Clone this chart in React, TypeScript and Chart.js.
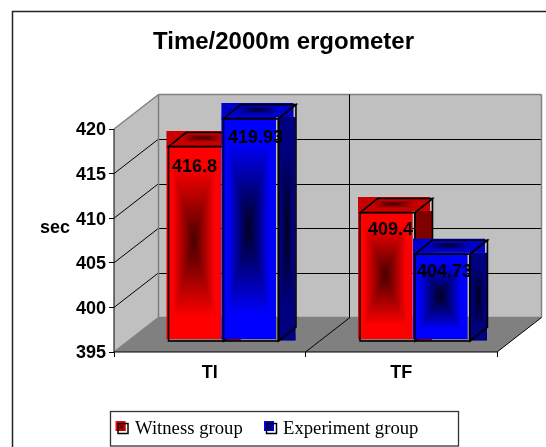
import React, { useEffect, useRef } from "react";
import { Chart, registerables } from "chart.js";

Chart.register(...registerables);

const categories = ["TI", "TF"];
const witnessGroup = [416.8, 409.4];
const experimentGroup = [419.93, 404.73];
const witnessLabels = ["416.8", "409.4"];
const experimentLabels = ["419.93", "404.73"];
const seriesNames = ["Witness group", "Experiment group"];
const chartTitle = "Time/2000m ergometer";
const yAxisTitle = "sec";

const SANS = '"Liberation Sans", Arial, sans-serif';
const SERIF = '"Liberation Serif", "Times New Roman", serif';

const WALL = { dx: 44.5, dy: -34.5 };
const BAR_SHIFT = { dx: 13.75, dy: -11 };
const BAR_DEPTH = { dx: 17.5, dy: -14 };
const LABEL_NUDGE = [
  [[3.5, 25], [8, 22.7]],
  [[4.5, 24.3], [2, 22.5]],
];

const PALETTE = [
  { front: [255, 0, 0], frontDark: [70, 0, 0], top: [200, 0, 0], topDark: [60, 0, 0], side: [128, 0, 0], sideDark: [80, 0, 0] },
  { front: [0, 0, 255], frontDark: [0, 0, 30], top: [0, 0, 200], topDark: [0, 0, 40], side: [0, 0, 128], sideDark: [0, 0, 30] },
];

const rgb = (c: number[]) => `rgb(${c[0]},${c[1]},${c[2]})`;

function rectGradient(ctx: CanvasRenderingContext2D, x: number, y: number, w: number, h: number, edge: number[], center: number[], hold = 0) {
  const cx = x + w / 2;
  const cy = y + h / 2;
  const faces = [
    [x, y, x + w, y, cx, y, cx, cy],
    [x + w, y, x + w, y + h, x + w, cy, cx, cy],
    [x + w, y + h, x, y + h, cx, y + h, cx, cy],
    [x, y + h, x, y, x, cy, cx, cy],
  ];
  ctx.save();
  ctx.beginPath();
  ctx.rect(x, y, w, h);
  ctx.clip();
  ctx.fillStyle = rgb(edge);
  ctx.fillRect(x, y, w, h);
  for (const f of faces) {
    const g = ctx.createLinearGradient(f[4], f[5], f[6], f[7]);
    g.addColorStop(0, rgb(edge));
    if (hold > 0) g.addColorStop(hold, rgb(edge));
    g.addColorStop(1, rgb(center));
    ctx.fillStyle = g;
    ctx.beginPath();
    ctx.moveTo(f[0], f[1]);
    ctx.lineTo(f[2], f[3]);
    ctx.lineTo(cx, cy);
    ctx.closePath();
    ctx.fill();
    ctx.strokeStyle = g;
    ctx.lineWidth = 0.6;
    ctx.stroke();
  }
  ctx.restore();
}

const poly = (ctx: CanvasRenderingContext2D, pts: number[][]) => {
  ctx.beginPath();
  pts.forEach((p, i) => (i ? ctx.lineTo(p[0], p[1]) : ctx.moveTo(p[0], p[1])));
  ctx.closePath();
};
const seg = (ctx: CanvasRenderingContext2D, x1: number, y1: number, x2: number, y2: number) => {
  ctx.beginPath();
  ctx.moveTo(x1, y1);
  ctx.lineTo(x2, y2);
  ctx.stroke();
};

const scene3d = {
  id: "scene3d",
  beforeDatasetsDraw(chart: any) {
    const ctx: CanvasRenderingContext2D = chart.ctx;
    const { left, right, top, bottom } = chart.chartArea;
    const yS = chart.scales.y;
    const xS = chart.scales.x;
    const D = WALL;
    ctx.save();
    ctx.fillStyle = "#c0c0c0";
    poly(ctx, [[left, top], [left + D.dx, top + D.dy], [left + D.dx, bottom + D.dy], [left, bottom]]);
    ctx.fill();
    ctx.fillRect(left + D.dx, top + D.dy, right - left, bottom - top);
    ctx.fillStyle = "#808080";
    poly(ctx, [[left, bottom], [left + D.dx, bottom + D.dy], [right + D.dx, bottom + D.dy], [right, bottom]]);
    ctx.fill();

    yS.ticks.forEach((t: any) => {
      const y = yS.getPixelForValue(t.value);
      if (t.value === yS.min || t.value === yS.max) return;
      ctx.strokeStyle = "#000";
      ctx.lineWidth = 1;
      seg(ctx, left, y, left + D.dx, y + D.dy);
      seg(ctx, left + D.dx, Math.round(y + D.dy) + 0.5, right + D.dx, Math.round(y + D.dy) + 0.5);
    });
    ctx.strokeStyle = "#808080";
    ctx.lineWidth = 1.5;
    seg(ctx, left, top, left + D.dx, top + D.dy);
    seg(ctx, left + D.dx, top + D.dy, right + D.dx, top + D.dy);
    seg(ctx, right + D.dx, top + D.dy, right + D.dx, bottom + D.dy);
    seg(ctx, left + D.dx, top + D.dy, left + D.dx, bottom + D.dy);
    seg(ctx, left + D.dx, bottom + D.dy, right + D.dx, bottom + D.dy);
    seg(ctx, left, bottom, left + D.dx, bottom + D.dy);

    const mid = (xS.getPixelForValue(0) + xS.getPixelForValue(1)) / 2;
    ctx.strokeStyle = "#000";
    ctx.lineWidth = 1;
    seg(ctx, Math.floor(mid + D.dx) - 0.5, top + D.dy, Math.floor(mid + D.dx) - 0.5, bottom + D.dy);
    seg(ctx, mid + D.dx, bottom + D.dy, mid, bottom);
    seg(ctx, right, bottom, right + D.dx, bottom + D.dy);
    seg(ctx, left, bottom, right, bottom);
    seg(ctx, left, top, left, bottom);

    const metas = [chart.getDatasetMeta(0), chart.getDatasetMeta(1)];
    categories.forEach((_, c) => {
      metas.forEach((meta, s) => {
        const el = meta.data[c];
        const colors = PALETTE[s];
        const w = el.width;
        const x0 = el.x - w / 2 + BAR_SHIFT.dx;
        const x1 = x0 + w;
        const y0 = el.y + BAR_SHIFT.dy;
        const y1 = yS.getPixelForValue(yS.min) + BAR_SHIFT.dy;
        const d = BAR_DEPTH;
        rectGradient(ctx, x1, y0 - 1.5, d.dx - 0.5, y1 - y0 + 1, colors.side, colors.sideDark, 0.3);
        rectGradient(ctx, x0 - 2, y0 + d.dy - 1.5, w + d.dx - 0.5, -d.dy, colors.top, colors.topDark, 0.45);
        rectGradient(ctx, x0 - 2, y0 - 1.5, w - 0.5, y1 - y0 - 0.5, colors.front, colors.frontDark, 0.22);
        ctx.strokeStyle = "#000";
        ctx.lineWidth = 1.6;
        ctx.lineJoin = "miter";
        ctx.strokeRect(x0, y0, w, y1 - y0);
        poly(ctx, [[x0, y0], [x0 + d.dx, y0 + d.dy], [x1 + d.dx, y0 + d.dy], [x1, y0]]);
        ctx.stroke();
        poly(ctx, [[x1, y0], [x1 + d.dx, y0 + d.dy], [x1 + d.dx, y1 + d.dy], [x1, y1]]);
        ctx.stroke();
      });
    });
    ctx.restore();
  },
  afterDatasetsDraw(chart: any) {
    const ctx: CanvasRenderingContext2D = chart.ctx;
    const labels = [witnessLabels, experimentLabels];
    ctx.save();
    ctx.fillStyle = "#000";
    ctx.font = `bold 18px ${SANS}`;
    ctx.textAlign = "left";
    ctx.textBaseline = "alphabetic";
    [0, 1].forEach((s) => {
      chart.getDatasetMeta(s).data.forEach((el: any, c: number) => {
        const x0 = el.x - el.width / 2 + BAR_SHIFT.dx;
        const y0 = el.y + BAR_SHIFT.dy;
        ctx.fillText(labels[s][c], x0 + LABEL_NUDGE[s][c][0], y0 + LABEL_NUDGE[s][c][1]);
      });
    });
    ctx.fillText(yAxisTitle, 40, 233);

    ctx.strokeStyle = "#222";
    ctx.lineWidth = 1.5;
    ctx.beginPath();
    ctx.moveTo(12.5, 460);
    ctx.lineTo(12.5, 11.5);
    ctx.lineTo(560, 11.5);
    ctx.stroke();

    ctx.strokeStyle = "#333";
    ctx.lineWidth = 1.3;
    ctx.strokeRect(110.5, 411.5, 348, 34.5);
    const entries = [
      { sx: 115.5, tx: 135, c: PALETTE[0] },
      { sx: 264, tx: 283, c: PALETTE[1] },
    ];
    entries.forEach((e, i) => {
      ctx.fillStyle = rgb(e.c.front);
      ctx.fillRect(e.sx, 421, 10, 10);
      rectGradient(ctx, e.sx + 2, 423, 8, 8, e.c.top, e.c.topDark, 0.3);
      ctx.strokeStyle = "#000";
      ctx.lineWidth = 1.5;
      ctx.strokeRect(e.sx + 2.5, 423.5, 10, 10);
      ctx.fillStyle = "#000";
      ctx.font = `18.7px ${SERIF}`;
      ctx.textBaseline = "alphabetic";
      ctx.fillText(seriesNames[i], e.tx, 433.5);
    });
    ctx.restore();
  },
};

export default function App() {
  const ref = useRef<HTMLCanvasElement | null>(null);
  useEffect(() => {
    const chart = new Chart(ref.current as HTMLCanvasElement, {
      type: "bar",
      data: {
        labels: categories,
        datasets: [
          { label: seriesNames[0], data: witnessGroup, backgroundColor: "rgba(0,0,0,0)", borderWidth: 0 },
          { label: seriesNames[1], data: experimentGroup, backgroundColor: "rgba(0,0,0,0)", borderWidth: 0 },
        ],
      },
      plugins: [scene3d],
      options: {
        responsive: false,
        animation: false,
        events: [],
        categoryPercentage: 0.574,
        barPercentage: 1,
        layout: { padding: { left: 70, right: 49, top: 0, bottom: 0 } },
        plugins: {
          legend: { display: false },
          tooltip: { enabled: false },
          title: {
            display: true,
            text: chartTitle,
            color: "#000",
            font: { family: SANS, size: 24, weight: "bold" },
            padding: { top: 27.6, bottom: 72.6 },
          },
        },
        scales: {
          x: {
            afterFit: (s: any) => { s.height = 95; },
            grid: { drawOnChartArea: false, drawTicks: true, tickLength: 5, color: "#000", lineWidth: 1 },
            border: { display: false },
            ticks: { color: "#000", padding: 5, font: { family: SANS, size: 18, weight: "bold" }, maxRotation: 0 },
          },
          y: {
            min: 395,
            max: 420,
            afterFit: (s: any) => { s.width = 44; },
            grid: { drawOnChartArea: false, drawTicks: true, tickLength: 5, color: "#000", lineWidth: 1 },
            border: { display: false },
            ticks: { stepSize: 5, color: "#000", padding: 3, labelOffset: 1.5, font: { family: SANS, size: 18, weight: "bold" } },
          },
        },
      } as any,
    });
    return () => chart.destroy();
  }, []);
  return (
    <div style={{ position: "absolute", left: 0, top: 0, width: 546, height: 447, overflow: "hidden", background: "#fff" }}>
      <canvas ref={ref} width={546} height={447} style={{ display: "block" }} />
    </div>
  );
}
